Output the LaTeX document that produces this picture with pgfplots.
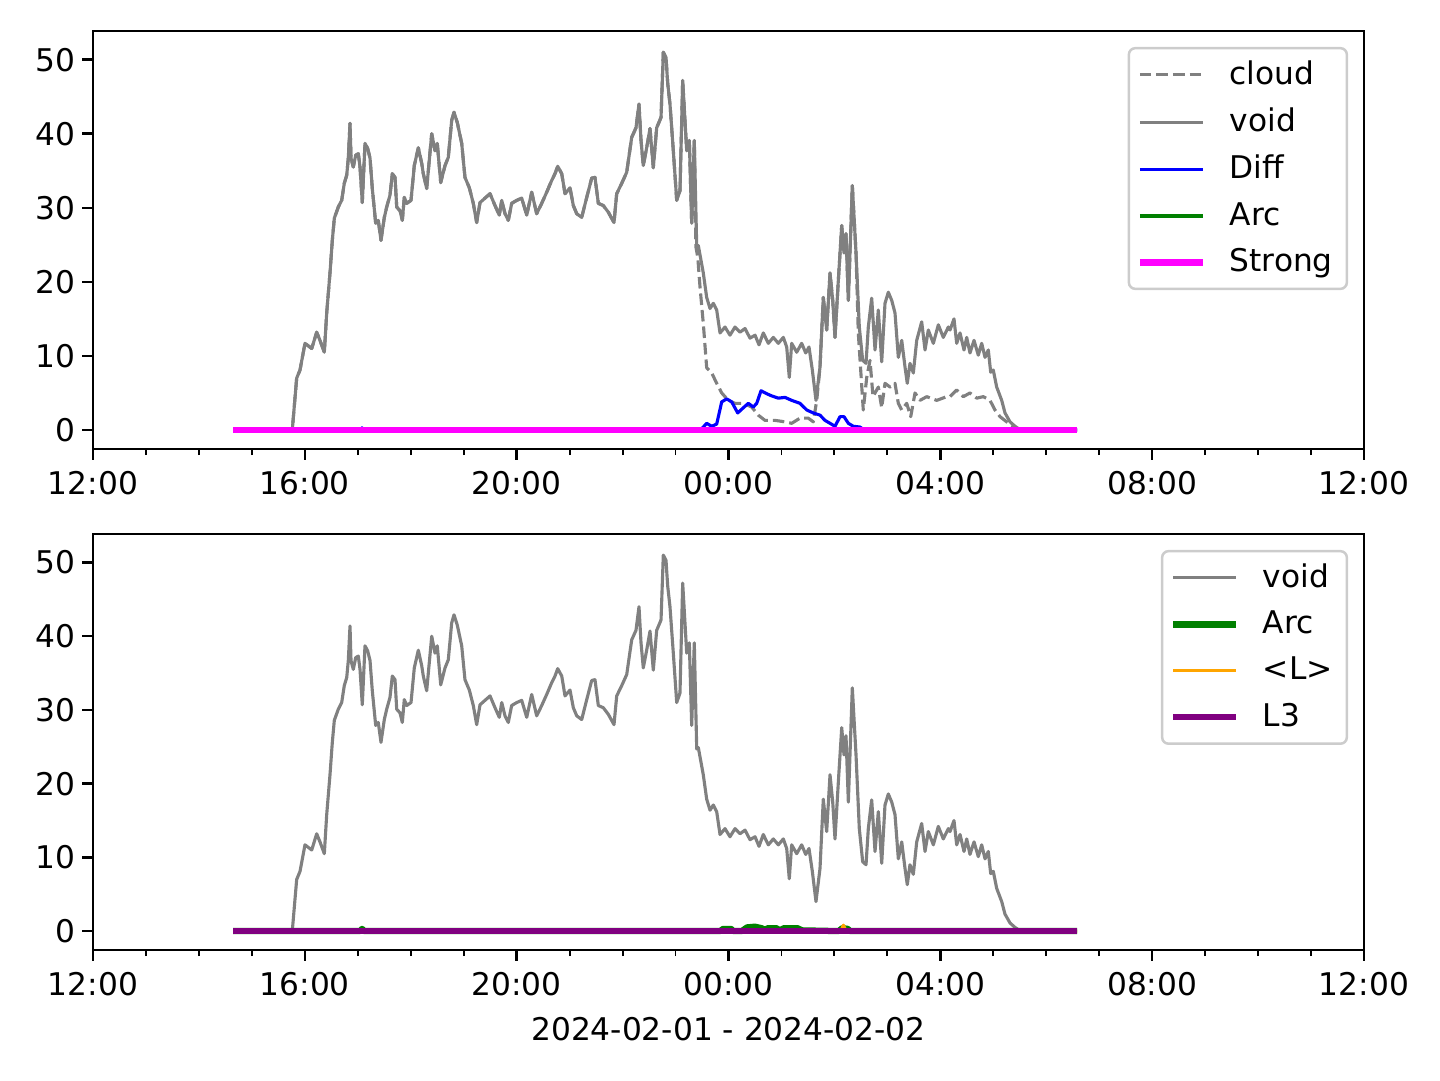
\documentclass[border=0pt]{standalone}
\usepackage{fontspec}
\setmainfont{DejaVu Sans}
\usepackage{pgfplots}
\usepackage{pgfplotstable}
\pgfplotsset{compat=1.18}

\definecolor{mgray}{HTML}{808080}
\definecolor{mblue}{HTML}{0000FF}
\definecolor{mgreen}{HTML}{008000}
\definecolor{mmagenta}{HTML}{FF00FF}
\definecolor{morange}{HTML}{FFA500}
\definecolor{mpurple}{HTML}{800080}
\definecolor{legframe}{HTML}{CCCCCC}

% x = hours counted from 00:00 of 2024-02-01
\pgfplotstableread{
x y
14.644 0
15.763 0
15.846 7.0
15.909 8.1
16.003 11.7
16.130 11.0
16.224 13.2
16.286 12.1
16.368 10.5
16.413 15.8
16.475 21.2
16.519 25.6
16.557 28.6
16.632 30.1
16.696 31.0
16.745 33.3
16.791 34.4
16.821 36.7
16.853 41.4
16.872 36.7
16.915 35.5
16.961 37.1
17.010 37.3
17.042 35.5
17.085 30.7
17.136 38.7
17.187 38.0
17.231 36.7
17.274 32.6
17.338 27.9
17.387 28.3
17.438 25.6
17.501 28.7
17.546 30.1
17.608 31.7
17.652 34.6
17.703 34.1
17.735 30.1
17.797 29.6
17.841 28.3
17.878 31.4
17.924 30.6
18.005 31.0
18.067 35.7
18.143 38.1
18.207 36.0
18.237 34.6
18.301 32.6
18.396 40.0
18.458 37.7
18.501 38.7
18.566 33.4
18.647 35.7
18.709 36.8
18.773 41.8
18.817 42.9
18.879 41.5
18.962 38.7
19.024 34.1
19.106 32.7
19.181 30.6
19.245 28.0
19.308 30.7
19.402 31.3
19.497 31.9
19.591 30.3
19.672 29.0
19.718 31.0
19.780 29.2
19.842 28.3
19.906 30.6
20.001 31.0
20.095 31.3
20.190 29.0
20.284 32.1
20.378 29.2
20.473 30.6
20.567 32.1
20.662 33.7
20.724 34.6
20.775 35.6
20.851 34.6
20.913 31.9
21.007 32.7
21.070 30.3
21.134 29.2
21.228 28.7
21.323 31.4
21.417 34.0
21.479 34.1
21.542 30.6
21.636 30.3
21.731 29.4
21.838 28.0
21.889 31.9
21.984 33.3
22.078 34.8
22.172 39.5
22.253 40.8
22.310 44.0
22.348 39.1
22.391 35.7
22.455 38.1
22.518 40.7
22.580 35.4
22.644 40.8
22.726 42.2
22.769 51.0
22.820 50.3
22.852 46.8
22.895 44.0
22.958 37.7
23.022 31.0
23.084 32.3
23.135 47.2
23.211 37.7
23.260 39.1
23.305 27.9
23.354 39.1
23.400 24.7
23.430 24.9
23.524 21.2
23.588 17.9
23.651 16.4
23.713 17.1
23.777 16.2
23.840 13.1
23.934 13.9
24.028 12.8
24.123 13.9
24.217 13.2
24.312 13.7
24.406 12.4
24.501 12.8
24.576 11.5
24.657 13.1
24.752 11.7
24.846 12.5
24.941 11.7
25.035 12.5
25.099 11.2
25.148 7.1
25.193 11.7
25.288 10.5
25.382 11.7
25.458 10.4
25.520 11.2
25.583 8.1
25.652 4.0
25.728 8.5
25.790 17.9
25.854 13.5
25.917 21.2
25.968 17.5
26.011 12.5
26.074 20.2
26.138 27.6
26.181 23.9
26.219 26.5
26.263 17.5
26.338 33.0
26.408 23.9
26.470 13.9
26.534 9.4
26.597 9.0
26.640 13.9
26.704 17.8
26.767 10.8
26.829 16.2
26.893 9.2
26.955 17.1
27.018 18.6
27.082 17.5
27.144 15.8
27.207 9.8
27.271 12.1
27.333 8.5
27.376 6.3
27.427 9.0
27.490 7.7
27.554 12.1
27.648 14.6
27.711 10.8
27.773 13.5
27.868 11.7
27.962 14.2
28.056 12.5
28.151 13.9
28.183 13.5
28.258 15.0
28.309 11.7
28.372 13.1
28.447 10.8
28.498 12.5
28.560 10.4
28.636 12.1
28.717 10.1
28.781 11.7
28.844 9.8
28.906 10.8
28.951 7.8
29.000 8.1
29.064 5.8
29.159 4.0
29.221 2.3
29.316 1.1
29.410 0.5
29.472 0.2
29.520 0
30.581 0
}\voidtab

\pgfplotstableread{
x y
14.644 0
15.763 0
15.846 7.0
15.909 8.1
16.003 11.7
16.130 11.0
16.224 13.2
16.286 12.1
16.368 10.5
16.413 15.8
16.475 21.2
16.519 25.6
16.557 28.6
16.632 30.1
16.696 31.0
16.745 33.3
16.791 34.4
16.821 36.7
16.853 41.4
16.872 36.7
16.915 35.5
16.961 37.1
17.010 37.3
17.042 35.5
17.085 30.7
17.136 38.7
17.187 38.0
17.231 36.7
17.274 32.6
17.338 27.9
17.387 28.3
17.438 25.6
17.501 28.7
17.546 30.1
17.608 31.7
17.652 34.6
17.703 34.1
17.735 30.1
17.797 29.6
17.841 28.3
17.878 31.4
17.924 30.6
18.005 31.0
18.067 35.7
18.143 38.1
18.207 36.0
18.237 34.6
18.301 32.6
18.396 40.0
18.458 37.7
18.501 38.7
18.566 33.4
18.647 35.7
18.709 36.8
18.773 41.8
18.817 42.9
18.879 41.5
18.962 38.7
19.024 34.1
19.106 32.7
19.181 30.6
19.245 28.0
19.308 30.7
19.402 31.3
19.497 31.9
19.591 30.3
19.672 29.0
19.718 31.0
19.780 29.2
19.842 28.3
19.906 30.6
20.001 31.0
20.095 31.3
20.190 29.0
20.284 32.1
20.378 29.2
20.473 30.6
20.567 32.1
20.662 33.7
20.724 34.6
20.775 35.6
20.851 34.6
20.913 31.9
21.007 32.7
21.070 30.3
21.134 29.2
21.228 28.7
21.323 31.4
21.417 34.0
21.479 34.1
21.542 30.6
21.636 30.3
21.731 29.4
21.838 28.0
21.889 31.9
21.984 33.3
22.078 34.8
22.172 39.5
22.253 40.8
22.310 44.0
22.348 39.1
22.391 35.7
22.455 38.1
22.518 40.7
22.580 35.4
22.644 40.8
22.726 42.2
22.769 51.0
22.820 50.3
22.852 46.8
22.895 44.0
22.958 37.7
23.022 31.0
23.084 32.3
23.135 47.2
23.211 37.7
23.260 39.1
23.305 27.9
23.354 39.1
23.385 24.7
23.420 23.3
23.462 19.3
23.524 14.4
23.588 8.4
23.683 7.7
23.777 6.3
23.872 5.0
23.996 4.0
24.123 3.6
24.280 3.6
24.438 3.1
24.563 2.0
24.689 1.3
24.878 1.3
25.067 1.1
25.193 0.9
25.350 1.6
25.507 1.6
25.601 1.1
25.666 4.0
25.728 8.5
25.790 17.9
25.854 13.5
25.917 21.2
25.968 17.5
26.011 12.5
26.074 20.2
26.138 27.6
26.181 23.9
26.219 26.5
26.263 17.5
26.338 33.0
26.408 23.9
26.451 13.1
26.545 2.7
26.610 7.1
26.672 9.4
26.729 4.5
26.829 5.8
26.893 3.0
26.955 6.3
27.050 5.8
27.144 6.3
27.207 3.6
27.271 2.7
27.365 3.6
27.441 1.8
27.522 5.0
27.616 4.0
27.743 4.5
27.932 4.0
28.121 4.5
28.183 4.5
28.309 5.4
28.434 4.5
28.560 5.0
28.687 4.3
28.812 4.5
28.938 4.0
29.032 2.7
29.127 1.8
29.253 1.1
29.378 0.5
29.480 0
30.581 0
}\cloudtab

\pgfplotstableread{
x y
14.644 0
17.060 0
17.080 0.3
17.100 0
23.462 0
23.524 0.4
23.588 0.9
23.683 0.5
23.777 0.8
23.872 3.8
23.966 4.2
24.060 3.8
24.174 2.3
24.280 3.0
24.374 3.6
24.469 3.1
24.533 3.6
24.614 5.3
24.721 4.9
24.816 4.6
24.941 4.3
25.067 4.4
25.193 4.0
25.350 3.6
25.477 2.7
25.601 2.3
25.728 2.0
25.822 1.3
25.917 0.9
26.011 0.5
26.106 1.8
26.181 1.8
26.263 0.9
26.357 0.5
26.483 0.4
26.540 0.1
26.600 0
30.581 0
}\difftab

\pgfplotstableread{
x y
14.644 0
30.581 0
}\zerotab

\pgfplotstableread{
x y
14.644 0
17.040 0
17.080 0.3
17.120 0
23.840 0
23.900 0.3
24.050 0.3
24.090 0
24.250 0
24.350 0.5
24.500 0.6
24.620 0.4
24.690 0.2
24.750 0.4
24.900 0.4
24.970 0.1
25.050 0.4
25.300 0.4
25.390 0.1
26.080 0
26.150 0.4
26.250 0.3
26.300 0
30.581 0
}\arctab

\pgfplotstableread{
x y
14.644 0
26.120 0
26.170 0.8
26.220 0
30.581 0
}\ltab

\pgfplotsset{
  every axis/.append style={font=\fontsize{10}{12}\selectfont},
  every axis plot/.append style={line join=round},
  mpl/.style={
    scale only axis, width=406.72pt,
    xmin=12, xmax=36, ymin=-2.565, ymax=53.865,
    axis line style={line width=0.8pt},
    tick align=outside, tick pos=lower,
    major tick length=3.5pt, minor tick length=2pt,
    every tick/.style={black, line width=0.8pt},
    minor tick style={line width=0.6pt},
    xtick={12,16,20,24,28,32,36},
    xticklabels={12:00,16:00,20:00,00:00,04:00,08:00,12:00},
    minor xtick={13,14,15,17,18,19,21,22,23,25,26,27,29,30,31,33,34,35},
    ytick={0,10,20,30,40,50},
    yticklabel style={xshift=1.5pt},
    /pgf/number format/assume math mode=true,
    legend cell align=left,
    legend style={at={(1,1)}, anchor=north east, xshift=-5.1pt, yshift=-5.1pt,
      draw=legframe, line width=0.8pt, rounded corners=2pt,
      inner xsep=2.5pt, inner ysep=2pt, row sep=2pt, column sep=5.6pt,
      font=\fontsize{10}{12}\selectfont},
    legend image code/.code={
      \draw[#1] (0pt,0pt) -- (20.16pt,0pt);
    },
  },
}

\begin{document}
\begin{tikzpicture}
\path (0,0) rectangle (460.8pt,345.6pt);

\begin{axis}[mpl, height=133.76pt, at={(29.76pt,201.92pt)}, anchor=south west]
  \addplot[mgray, line width=1pt, dash pattern=on 3.7pt off 1.6pt] table[x=x,y=y] {\cloudtab};
  \addlegendentry{cloud}
  \addplot[mgray, line width=1pt] table[x=x,y=y] {\voidtab};
  \addlegendentry{void}
  \addplot[mblue, line width=1pt] table[x=x,y=y] {\difftab};
  \addlegendentry{Diff}
  \addplot[mgreen, line width=1pt] table[x=x,y=y] {\zerotab};
  \addlegendentry{Arc}
  \addplot[mmagenta, line width=2pt] table[x=x,y=y] {\zerotab};
  \addlegendentry{Strong}
\end{axis}

\begin{axis}[mpl, height=133.12pt, at={(29.76pt,41.6pt)}, anchor=south west,
  xlabel={2024-02-01 - 2024-02-02}]
  \addplot[mgray, line width=1pt] table[x=x,y=y] {\voidtab};
  \addlegendentry{void}
  \addplot[mgreen, line width=2pt] table[x=x,y=y] {\arctab};
  \addlegendentry{Arc}
  \addplot[morange, line width=1pt] table[x=x,y=y] {\ltab};
  \addlegendentry{<L>}
  \addplot[mpurple, line width=2pt] table[x=x,y=y] {\zerotab};
  \addlegendentry{L3}
\end{axis}
\end{tikzpicture}
\end{document}
